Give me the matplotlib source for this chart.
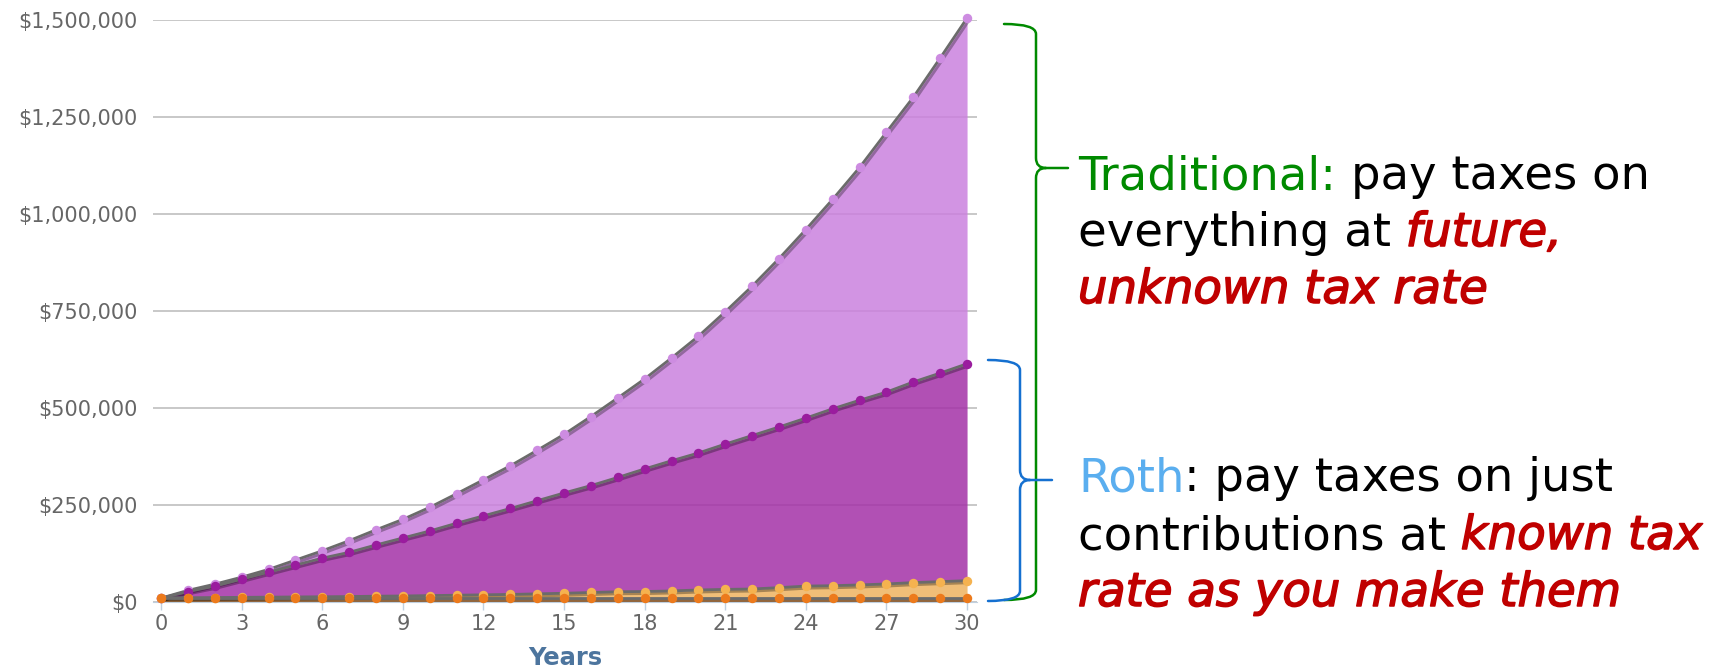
import matplotlib.pyplot as plt
import matplotlib.ticker as mticker
import matplotlib.patheffects as pe
from matplotlib.path import Path
from matplotlib.patches import PathPatch
import numpy as np

# data
years = list(range(31))
traditional = [10000, 30000, 46000, 64000, 84000, 108000, 132000, 158000, 186000, 213000,
               244000, 279000, 315000, 351000, 391000, 432000, 478000, 526000, 575000, 629000,
               685000, 748000, 814000, 885000, 960000, 1038000, 1120000, 1211000, 1301000,
               1402000, 1505000]
roth = [10000, 27000, 41000, 59000, 77000, 95000, 113000, 128000, 147000, 165000,
        183000, 203000, 222000, 241000, 261000, 281000, 300000, 321000, 343000, 364000,
        384000, 407000, 429000, 451000, 474000, 498000, 520000, 541000, 567000, 590000,
        614000]
taxes_light = [11000, 11000, 11500, 12000, 12500, 13000, 13500, 14000, 15000, 15500,
               16500, 17500, 18500, 19500, 21000, 22500, 24500, 26500, 27000, 28500,
               31000, 32500, 33500, 37000, 41000, 42000, 44000, 46500, 50000, 52500,
               55000]
taxes_dark = [10000] * 31

W, H = 1729, 667
fig = plt.figure(figsize=(W / 100, H / 100), dpi=100)
ax = fig.add_axes([153 / W, 1 - 602 / H, (977 - 153) / W, (602 - 20) / H])

yrs = np.array(years)
zero = np.zeros(len(years))
line_kw = dict(color='#6b6b6b', lw=2.0, solid_capstyle='round',
               path_effects=[pe.SimpleLineShadow(offset=(1.5, -1.5), alpha=0.3), pe.Normal()])
a = 0.85

# areas (each drawn between its neighbours so the grid shows through a bit)
ax.fill_between(yrs, roth, traditional, color='#cb81de', alpha=a, lw=0, zorder=2)
ax.fill_between(yrs, taxes_light, roth, color='#a431a7', alpha=a, lw=0, zorder=2)
ax.fill_between(yrs, taxes_dark, taxes_light, color='#eeb360', alpha=a, lw=0, zorder=2)
ax.fill_between(yrs, zero, taxes_dark, color='#c8803c', alpha=a, lw=0, zorder=2)

series = [(traditional, '#cd8ce1'), (roth, '#9a1c9e'),
          (taxes_light, '#f5b24f'), (taxes_dark, '#ec7a1c')]
for i, (vals, mc) in enumerate(series):
    ax.plot(yrs, vals, zorder=3 + i, **line_kw)
    ax.plot(yrs, vals, ls='none', marker='o', ms=6.8, mfc=mc, mec='none',
            zorder=3.5 + i, clip_on=False)

ax.set_xlim(-0.3, 30.37)
ax.set_ylim(0, 1500000)
ax.set_xticks(range(0, 31, 3))
ax.set_yticks(range(0, 1500001, 250000))
ax.yaxis.set_major_formatter(mticker.FuncFormatter(lambda v, p: f'${v:,.0f}'))
ax.set_axisbelow(True)
ax.yaxis.grid(True, color='#c4c4c4', lw=1.3)
for s in ['top', 'right', 'left']:
    ax.spines[s].set_visible(False)
ax.spines['bottom'].set_color('#c0d0e0')
ax.tick_params(axis='y', length=0, pad=11, labelsize=15, labelcolor='#666666')
ax.tick_params(axis='x', length=6, width=1, color='#c0d0e0', pad=3,
               labelsize=15, labelcolor='#666666')
ax.set_xlabel('Years', fontsize=17.5, fontweight='bold', color='#4d759e', labelpad=8)


def brace(xl, xs, xt, yt, yb, ym, color, r=10):
    pts = [(xl, yt), (xs, yt), (xs, yt + r), (xs, ym - r), (xs, ym), (xs + r, ym),
           (xt, ym), (xs + r, ym), (xs, ym), (xs, ym + r), (xs, yb - r), (xs, yb), (xl, yb)]
    codes = [Path.MOVETO, Path.CURVE3, Path.CURVE3, Path.LINETO, Path.CURVE3, Path.CURVE3,
             Path.LINETO, Path.MOVETO, Path.CURVE3, Path.CURVE3, Path.LINETO, Path.CURVE3,
             Path.CURVE3]
    verts = [(x / W, 1 - y / H) for x, y in pts]
    fig.patches.append(PathPatch(Path(verts, codes), fill=False, edgecolor=color, lw=1.8,
                                 transform=fig.transFigure, capstyle='round'))


brace(1004, 1036, 1068, 24, 600, 168, '#008a00')
brace(988, 1020, 1052, 360, 601, 480, '#1570d0')

GREEN, BLACK, RED, BLUE = '#008a00', 'black', '#c00000', '#5aaeef'
FS = 33.5
renderer = fig.canvas.get_renderer()


def text_w(s, **kw):
    t = fig.text(0, 0, s, fontsize=FS, **kw)
    w = t.get_window_extent(renderer=renderer).width
    t.remove()
    return w


space = text_w('x x') - text_w('xx')


def put_line(y_px, segs):
    x = 1078
    for s, color, italic, gap in segs:
        kw = {}
        if italic:
            # the red phrases are a heavier italic in the original
            kw = dict(style='italic',
                      path_effects=[pe.withStroke(linewidth=1.1, foreground=color)])
        if gap:
            x += space
        t = fig.text(x / W, 1 - y_px / H, s, color=color, fontsize=FS,
                     va='baseline', ha='left', **kw)
        x = t.get_window_extent(renderer=renderer).x1


put_line(189, [('Traditional:', GREEN, False, False), ('pay taxes on', BLACK, False, True)])
put_line(246, [('everything at', BLACK, False, False), ('future,', RED, True, True)])
put_line(303, [('unknown tax rate', RED, True, False)])
put_line(491, [('Roth', BLUE, False, False), (': pay taxes on just', BLACK, False, False)])
put_line(549, [('contributions at', BLACK, False, False), ('known tax', RED, True, True)])
put_line(606, [('rate as you make them', RED, True, False)])

fig.savefig('out.png', dpi=100)
